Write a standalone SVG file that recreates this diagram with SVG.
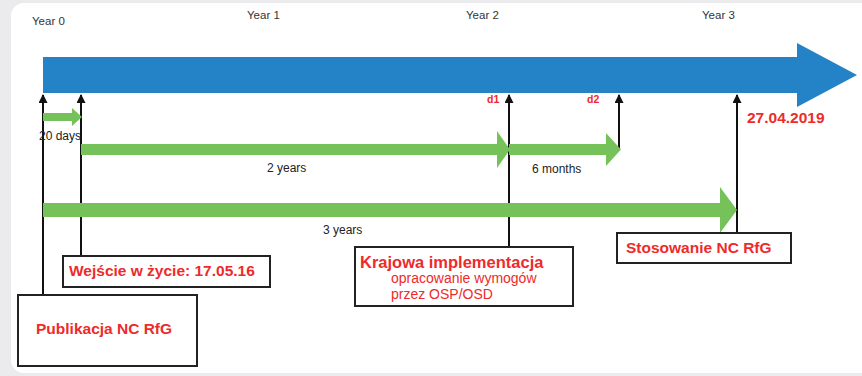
<svg xmlns="http://www.w3.org/2000/svg" width="862" height="376" viewBox="0 0 862 376">
  <style>
    .yr { font-family: "Liberation Sans", Arial, sans-serif; font-size: 11.5px; fill: #333; }
    .lbl { font-family: "Liberation Sans", Arial, sans-serif; font-size: 12px; fill: #222; }
    .d { font-family: "Liberation Sans", Arial, sans-serif; font-size: 10.5px; font-weight: bold; fill: #ee2a2a; }
    .red { font-family: "Liberation Sans", Arial, sans-serif; font-size: 15.5px; font-weight: bold; fill: #ee2a2a; }
    .redn { font-family: "Liberation Sans", Arial, sans-serif; font-size: 14px; fill: #ee2a2a; }
    .box { fill: #ffffff; stroke: #222; stroke-width: 2; }
    .pin { fill: none; stroke: #111; stroke-width: 2; marker-end: url(#up); }
    .green { fill: #76c25a; }
  </style>
  <defs>
    <marker id="up" markerUnits="userSpaceOnUse" viewBox="0 0 10 10" refX="9" refY="5" markerWidth="10" markerHeight="9" orient="auto">
      <path d="M0,0 L10,5 L0,10 z" fill="#111"/>
    </marker>
  </defs>

  <rect x="0" y="0" width="862" height="376" fill="#ebebed"/>
  <rect x="11" y="3" width="866" height="370" rx="13" fill="#ffffff"/>

  <g id="timeline">
    <path d="M43,57 H797 V43 L857,75 L797,107 V93 H43 z" fill="#2383c6"/>
  </g>

  <g id="year-labels">
    <text class="yr" x="32" y="25">Year 0</text>
    <text class="yr" x="247" y="19">Year 1</text>
    <text class="yr" x="466" y="19">Year 2</text>
    <text class="yr" x="702" y="19">Year 3</text>
  </g>

  <g id="connectors">
    <path class="pin" d="M43,295 V95"/>
    <path class="pin" d="M81,256 V95"/>
    <path class="pin" d="M509,247 V95"/>
    <path class="pin" d="M619,149 V95"/>
    <path class="pin" d="M737,233 V95"/>
  </g>

  <g id="durations">
    <path class="green" d="M43,113 H72 V108 L82,117 L72,126 V121 H43 z"/>
    <path class="green" d="M81,144 H497 V131 L510,149.5 L497,168 V155 H81 z"/>
    <path class="green" d="M509,144 H606 V133 L621,149.5 L606,166 V155 H509 z"/>
    <path class="green" d="M43,203 H720 V187 L737,210 L720,233 V217 H43 z"/>
    <text class="lbl" x="39" y="140">20 days</text>
    <text class="lbl" x="267" y="172">2 years</text>
    <text class="lbl" x="532" y="173">6 months</text>
    <text class="lbl" x="323" y="234">3 years</text>
  </g>

  <g id="deadlines">
    <text class="d" x="487" y="103">d1</text>
    <text class="d" x="587" y="103">d2</text>
    <text class="red" x="747" y="123">27.04.2019</text>
  </g>

  <g id="node-publikacja">
    <rect class="box" x="18" y="295" width="179" height="71"/>
    <text class="red" x="36" y="334">Publikacja NC RfG</text>
  </g>

  <g id="node-wejscie">
    <rect class="box" x="63" y="256" width="207" height="31"/>
    <text class="red" x="69" y="276">Wejście w życie: 17.05.16</text>
  </g>

  <g id="node-krajowa">
    <rect class="box" x="355" y="247" width="218" height="59"/>
    <text class="red" x="360" y="268" style="font-size:16.5px">Krajowa implementacja</text>
    <text class="redn" x="391" y="283">opracowanie wymogów</text>
    <text class="redn" x="391" y="299">przez OSP/OSD</text>
  </g>

  <g id="node-stosowanie">
    <rect class="box" x="617" y="233" width="174" height="30"/>
    <text class="red" x="626" y="253">Stosowanie NC RfG</text>
  </g>
</svg>
